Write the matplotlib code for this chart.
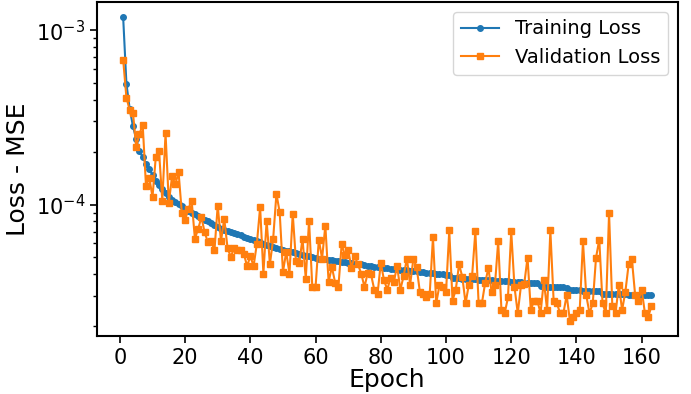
import matplotlib
matplotlib.use('Agg')
from matplotlib import pyplot as plt

# loss history, one value per epoch (1..163)
epochs = list(range(1, 164))

train_loss = [
    1.19e-3, 4.95e-4, 3.55e-4, 2.82e-4, 2.38e-4, 2.03e-4, 1.87e-4, 1.72e-4, 1.61e-4, 1.47e-4,
    1.37e-4, 1.30e-4, 1.23e-4, 1.17e-4, 1.105e-4, 1.065e-4, 1.036e-4, 1.006e-4, 9.77e-5, 9.48e-5,
    9.23e-5, 8.99e-5, 8.79e-5, 8.60e-5, 8.40e-5, 8.20e-5, 8.01e-5, 7.81e-5, 7.62e-5, 7.43e-5,
    7.28e-5, 7.14e-5, 7.04e-5, 6.94e-5, 6.84e-5, 6.75e-5, 6.65e-5, 6.55e-5, 6.45e-5, 6.36e-5,
    6.26e-5, 6.16e-5, 6.07e-5, 5.97e-5, 5.89e-5, 5.81e-5, 5.74e-5, 5.66e-5, 5.58e-5, 5.51e-5,
    5.45e-5, 5.38e-5, 5.31e-5, 5.25e-5, 5.20e-5, 5.15e-5, 5.10e-5, 5.05e-5, 5.00e-5, 4.95e-5,
    4.90e-5, 4.87e-5, 4.84e-5, 4.81e-5, 4.78e-5, 4.75e-5, 4.72e-5, 4.69e-5, 4.67e-5, 4.64e-5,
    4.61e-5, 4.58e-5, 4.55e-5, 4.53e-5, 4.50e-5, 4.47e-5, 4.44e-5, 4.41e-5, 4.38e-5, 4.36e-5,
    4.33e-5, 4.31e-5, 4.29e-5, 4.27e-5, 4.25e-5, 4.23e-5, 4.21e-5, 4.19e-5, 4.17e-5, 4.15e-5,
    4.13e-5, 4.11e-5, 4.09e-5, 4.07e-5, 4.05e-5, 4.03e-5, 4.02e-5, 4.00e-5, 3.98e-5, 3.96e-5,
    3.95e-5, 3.80e-5, 3.78e-5, 3.77e-5, 3.76e-5, 3.75e-5, 3.74e-5, 3.73e-5, 3.72e-5, 3.71e-5,
    3.70e-5, 3.69e-5, 3.68e-5, 3.67e-5, 3.66e-5, 3.65e-5, 3.64e-5, 3.63e-5, 3.62e-5, 3.61e-5,
    3.60e-5, 3.59e-5, 3.58e-5, 3.57e-5, 3.56e-5, 3.55e-5, 3.54e-5, 3.53e-5, 3.39e-5, 3.38e-5,
    3.37e-5, 3.37e-5, 3.36e-5, 3.36e-5, 3.35e-5, 3.35e-5, 3.34e-5, 3.23e-5, 3.23e-5, 3.22e-5,
    3.22e-5, 3.21e-5, 3.21e-5, 3.20e-5, 3.20e-5, 3.19e-5, 3.19e-5, 3.08e-5, 3.08e-5, 3.07e-5,
    3.07e-5, 3.06e-5, 3.06e-5, 3.05e-5, 3.05e-5, 3.04e-5, 3.04e-5, 3.03e-5, 3.03e-5, 3.02e-5,
    3.02e-5, 3.01e-5, 3.01e-5,
]

val_loss = [
    6.80e-4, 4.11e-4, 3.49e-4, 3.37e-4, 2.14e-4, 2.55e-4, 2.86e-4, 1.28e-4, 1.43e-4, 1.105e-4,
    1.87e-4, 2.02e-4, 1.055e-4, 2.56e-4, 1.026e-4, 1.45e-4, 1.31e-4, 1.53e-4, 8.92e-5, 8.18e-5,
    9.45e-5, 1.055e-4, 6.37e-5, 7.26e-5, 8.43e-5, 6.92e-5, 6.07e-5, 6.17e-5, 5.46e-5, 9.87e-5,
    6.17e-5, 8.29e-5, 5.66e-5, 5.00e-5, 5.63e-5, 5.46e-5, 5.46e-5, 5.22e-5, 4.44e-5, 5.05e-5,
    4.44e-5, 5.96e-5, 9.67e-5, 4.02e-5, 8.10e-5, 4.54e-5, 6.37e-5, 1.154e-4, 9.03e-5, 4.11e-5,
    5.34e-5, 4.02e-5, 8.85e-5, 4.72e-5, 4.62e-5, 6.37e-5, 3.76e-5, 8.10e-5, 3.37e-5, 3.37e-5,
    6.29e-5, 4.90e-5, 7.58e-5, 3.60e-5, 4.38e-5, 3.57e-5, 3.37e-5, 5.91e-5, 5.12e-5, 5.51e-5,
    4.35e-5, 5.05e-5, 4.54e-5, 4.02e-5, 3.37e-5, 4.05e-5, 3.98e-5, 3.25e-5, 3.05e-5, 4.64e-5,
    3.67e-5, 3.25e-5, 3.81e-5, 3.60e-5, 4.44e-5, 3.25e-5, 3.88e-5, 4.90e-5, 3.47e-5, 4.90e-5,
    4.36e-5, 3.14e-5, 3.06e-5, 2.94e-5, 3.06e-5, 6.48e-5, 2.72e-5, 3.44e-5, 3.37e-5, 3.13e-5,
    7.10e-5, 2.81e-5, 3.25e-5, 4.54e-5, 3.85e-5, 2.71e-5, 3.47e-5, 3.90e-5, 7.01e-5, 2.71e-5,
    2.71e-5, 3.55e-5, 4.33e-5, 3.13e-5, 3.44e-5, 6.14e-5, 2.48e-5, 2.38e-5, 2.93e-5, 7.01e-5,
    3.37e-5, 2.38e-5, 3.44e-5, 3.52e-5, 4.96e-5, 2.48e-5, 2.81e-5, 2.81e-5, 2.38e-5, 3.67e-5,
    2.48e-5, 7.10e-5, 2.81e-5, 2.71e-5, 2.38e-5, 2.38e-5, 3.02e-5, 2.15e-5, 2.27e-5, 2.38e-5,
    2.48e-5, 6.14e-5, 3.02e-5, 2.38e-5, 2.71e-5, 4.96e-5, 6.29e-5, 2.71e-5, 2.38e-5, 8.92e-5,
    2.61e-5, 2.38e-5, 3.47e-5, 2.48e-5, 3.16e-5, 4.54e-5, 4.85e-5, 3.02e-5, 2.81e-5, 3.25e-5,
    2.38e-5, 2.27e-5, 2.61e-5,
]

fig = plt.figure(figsize=(6.91, 3.94), dpi=100)
ax = fig.add_axes([0.140, 0.147, 0.841, 0.848])

ax.plot(epochs, train_loss, color='#1f77b4', marker='o', markersize=4,
        linewidth=1.5, label='Training Loss')
ax.plot(epochs, val_loss, color='#ff7f0e', marker='s', markersize=4,
        linewidth=1.5, label='Validation Loss')

ax.set_yscale('log')
ax.set_xticks(range(0, 161, 20))
ax.set_xlabel('Epoch', fontsize=18, labelpad=0)
ax.set_ylabel('Loss - MSE', fontsize=18)
ax.tick_params(axis='both', which='major', labelsize=15, width=1.2, length=5)
ax.tick_params(axis='y', which='minor', width=1.0, length=3)

# thicker frame like the original
for spine in ax.spines.values():
    spine.set_linewidth(1.5)

ax.legend(loc='upper right', fontsize=14)

fig.savefig('out.png', dpi=100)
